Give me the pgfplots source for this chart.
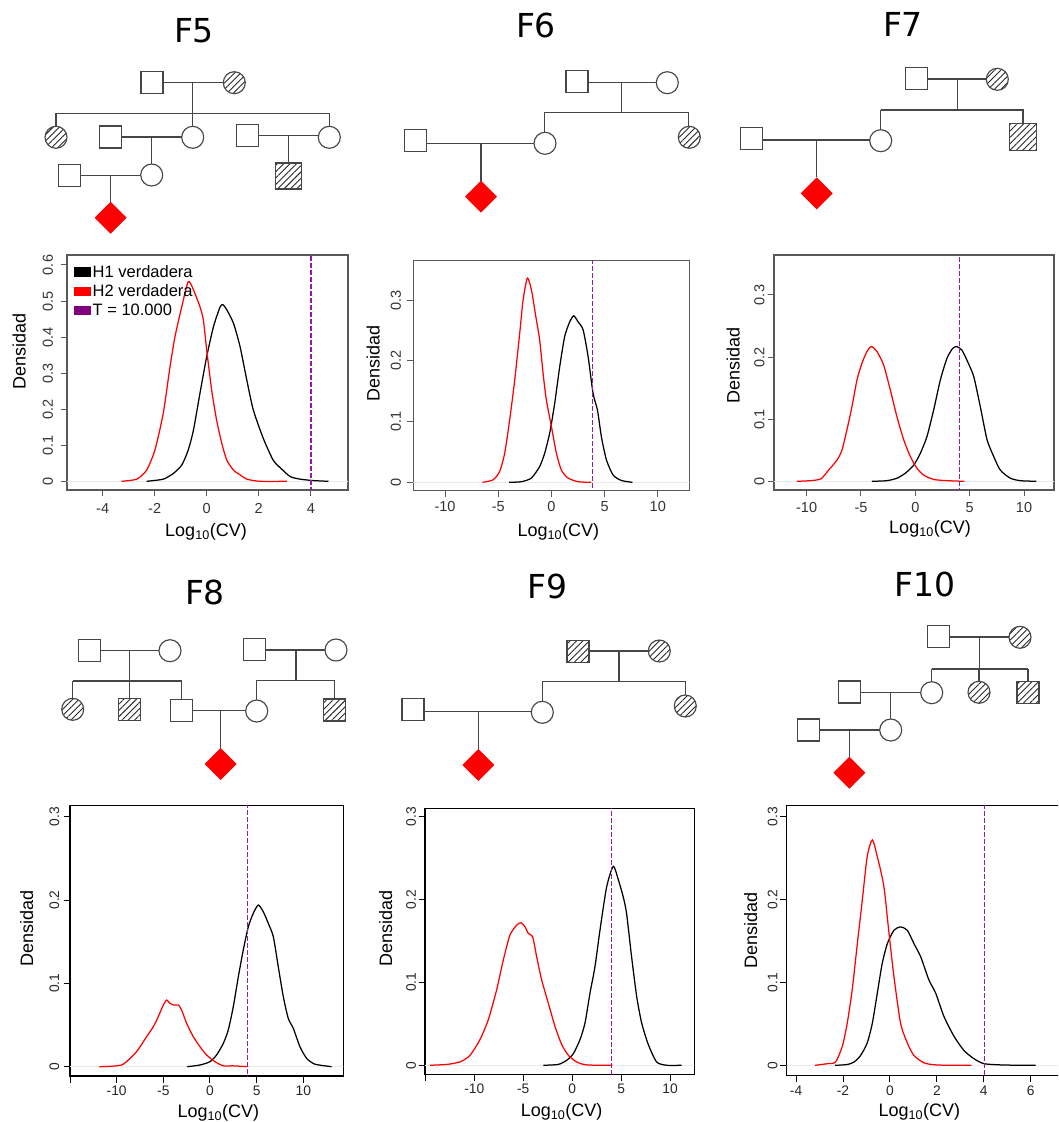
\documentclass[border=0pt]{standalone}
\usepackage{fontspec}
\setmainfont{Liberation Sans}
\newfontfamily\dejavu{DejaVu Sans}
\usepackage{pgfplots}
\pgfplotsset{compat=1.18}
\usetikzlibrary{patterns.meta}
\definecolor{tpurple}{RGB}{128,0,128}
\definecolor{tline}{RGB}{146,28,162}
\definecolor{pedline}{RGB}{70,70,70}
\newcommand\tickfont{\fontsize{14.5}{15}\selectfont}
\newcommand\tickfontb{\fontsize{13.8}{14}\selectfont}
\newcommand\labfont{\fontsize{18}{19}\selectfont}
\newcommand\titfont{\dejavu\fontsize{33}{36}\selectfont}
\tikzset{hatch/.style={pattern={Lines[angle=45,distance=4.5pt,line width=0.9pt]}, pattern color=black!85}}
\pgfplotsset{
  dens/.style={
    scale only axis, anchor=north west,
    axis line style={line width=1.1pt},
    tick align=outside, major tick length=6.5pt,
    xtick pos=left, ytick pos=left,
    tick style={line width=1pt},
    xticklabel style={anchor=center},
    every axis plot/.append style={line width=1.25pt},
  },
  yoff/.style={yticklabel style={xshift=-#1, rotate=90, anchor=center}},
  xoff/.style={xticklabel style={yshift=-#1}},
  tl/.style={tline, dash pattern=on 5pt off 2pt, line width=1.5pt},
}
% pedigree helpers (pixel coordinates, y downwards)
\newcommand\sq[2]{\draw[pedline,line width=1.15pt,fill=white] ({#1-11},{#2-11}) rectangle ({#1+11},{#2+11});}
\newcommand\hsq[3]{\draw[pedline,line width=1.15pt,hatch] ({#1-#3},{#2-#3}) rectangle ({#1+#3},{#2+#3});}
\newcommand\ci[2]{\draw[pedline,line width=1.15pt,fill=white] (#1,#2) circle[radius=11pt];}
\newcommand\hci[2]{\draw[pedline,line width=1.15pt,hatch] (#1,#2) circle[radius=11pt];}
\newcommand\dia[2]{\fill[red] (#1,{#2-16}) -- ({#1+16},#2) -- (#1,{#2+16}) -- ({#1-16},#2) -- cycle;}
\newcommand\pl[4]{\draw[pedline,line width=1.15pt] (#1,#2) -- (#3,#4);}

\begin{document}
\begin{tikzpicture}
\path[use as bounding box] (0pt,0pt) rectangle (1058pt,-1122pt);
\begin{scope}
\clip (0pt,0pt) rectangle (1058pt,-1122pt);

% ---------------- titles ----------------
\node[font=\titfont] at (194pt,-31pt) {F5};
\node[font=\titfont] at (536pt,-25pt) {F6};
\node[font=\titfont] at (903pt,-24pt) {F7};
\node[font=\titfont] at (205pt,-592pt) {F8};
\node[font=\titfont] at (547.5pt,-586pt) {F9};
\node[font=\titfont] at (925pt,-584pt) {F10};

% ---------------- pedigrees ----------------
\begin{scope}[x=1pt,y=-1pt]
% F5
\pl{163}{82.5}{223.3}{82.5}\pl{192.7}{82.5}{192.7}{113.3}
\pl{56}{113.3}{330}{113.3}\pl{56}{113.3}{56}{126.3}\pl{192.7}{113.3}{192.7}{126.3}\pl{329.3}{113.3}{329.3}{126.3}
\pl{121.8}{137}{181.7}{137}\pl{151.7}{137}{151.7}{164}
\pl{258.7}{135.3}{318.3}{135.3}\pl{288.7}{135.3}{288.7}{163}
\pl{80.5}{175.2}{140.7}{175.2}\pl{110.7}{175.2}{110.7}{201.7}
\sq{152}{82.5}\hci{234.3}{82.7}
\hci{56}{137.3}\ci{192.7}{137.3}\ci{329.3}{137.3}
\sq{110.8}{137}\ci{151.7}{175}
\sq{247.7}{135.3}\hsq{288.3}{176}{13}
\sq{69.5}{175.2}\dia{110.7}{217.7}
% F6
\pl{588}{82.5}{656.3}{82.5}\pl{621.7}{82.5}{621.7}{112.3}
\pl{544.3}{112.3}{688.3}{112.3}\pl{544.3}{112.3}{544.3}{132.3}\pl{688.3}{112.3}{688.3}{126.3}
\pl{426.8}{143.3}{534}{143.3}\pl{481}{143.3}{481}{180.7}
\sq{577}{81.8}\ci{667.3}{82.7}\ci{545}{143.3}\hci{689.3}{137.3}
\sq{415.8}{140.8}\dia{481}{196.7}
% F7
\pl{927.7}{79}{986.3}{79}\pl{957.3}{79}{957.3}{110}
\pl{880.7}{110}{1023.7}{110}\pl{880.7}{110}{880.7}{129.7}\pl{1023}{110}{1023}{123.5}
\pl{762.7}{140}{869.7}{140}\pl{816.7}{140}{816.7}{177.3}
\sq{916.7}{78.5}\hci{997.3}{79.3}\ci{880.7}{140.7}\hsq{1023}{137}{13.2}
\sq{751.7}{138.2}\dia{816.7}{193.3}
% F8
\pl{100.2}{650.5}{159}{650.5}\pl{129.3}{650.5}{129.3}{681}
\pl{72.7}{681}{181.7}{681}\pl{72.7}{681}{72.7}{698.3}\pl{129.5}{681}{129.5}{698.3}\pl{181.3}{681}{181.3}{699.2}
\pl{265.7}{650}{325}{650}\pl{296}{650}{296}{680.3}
\pl{256.7}{680.3}{334.3}{680.3}\pl{256.7}{680.3}{256.7}{700}\pl{334.3}{680.3}{334.3}{699}
\pl{192.3}{710.7}{245.7}{710.7}\pl{220.7}{710.7}{220.7}{748}
\sq{89.2}{650.2}\ci{170}{650.7}
\hci{72.7}{709.3}\hsq{129.5}{709.3}{11}\sq{181.3}{710.2}
\sq{254.7}{649.7}\ci{336}{650}
\ci{256.7}{711}\hsq{334.3}{710}{11}
\dia{220.7}{764}
% F9
\pl{589}{651}{648.3}{651}\pl{619}{651}{619}{681.3}
\pl{542.3}{681.3}{685.3}{681.3}\pl{542.3}{681.3}{542.3}{701.3}\pl{685.3}{681.3}{685.3}{695}
\pl{424}{711.7}{531.3}{711.7}\pl{478.3}{711.7}{478.3}{749}
\hsq{578}{651.2}{11}\hci{659.3}{651}\ci{542.3}{712.3}\hci{685.3}{706}
\sq{413}{709.2}\dia{478.3}{765}
% F10
\pl{949.3}{637}{1009}{637}\pl{979.3}{637}{979.3}{669}
\pl{931.7}{669}{1027.7}{669}\pl{931.7}{669}{931.7}{681.7}\pl{979}{669}{979}{681.3}\pl{1028}{669}{1028}{681.7}
\pl{860.7}{692.3}{920.7}{692.3}\pl{890.7}{692.3}{890.7}{719}
\pl{819.3}{730}{879.7}{730}\pl{849.3}{730}{849.3}{756.7}
\sq{938.3}{636.7}\hci{1020}{637.3}
\ci{931.7}{692.7}\hci{979}{692.3}\hsq{1028}{692.7}{11}
\sq{849.7}{692}\ci{890.7}{730}
\sq{808.3}{730}\dia{849.3}{772.7}
\end{scope}

% ---------------- axis labels ----------------
\node[font=\labfont,rotate=90] at (19.3pt,-351.7pt) {Densidad};
\node[font=\labfont,rotate=90] at (373.3pt,-363.3pt) {Densidad};
\node[font=\labfont,rotate=90] at (733.3pt,-365pt) {Densidad};
\node[font=\labfont,rotate=90] at (26.7pt,-928.3pt) {Densidad};
\node[font=\labfont,rotate=90] at (385.7pt,-928.3pt) {Densidad};
\node[font=\labfont,rotate=90] at (750.7pt,-930.7pt) {Densidad};
\node[font=\labfont] at (206pt,-531.7pt) {Log\textsubscript{10}(CV)};
\node[font=\labfont] at (558.3pt,-531.7pt) {Log\textsubscript{10}(CV)};
\node[font=\labfont] at (930pt,-529.3pt) {Log\textsubscript{10}(CV)};
\node[font=\labfont] at (218.3pt,-1113pt) {Log\textsubscript{10}(CV)};
\node[font=\labfont] at (561.7pt,-1111.7pt) {Log\textsubscript{10}(CV)};
\node[font=\labfont] at (919.3pt,-1111.7pt) {Log\textsubscript{10}(CV)};

% ---------------- F5 ----------------
\begin{axis}[dens, at={(67pt,-255pt)}, width=281pt, height=235pt,
  xmin=-5.37, xmax=5.43, ymin=-0.0241, ymax=0.6277,
  axis line style={black!65}, tick style={black!65},
  ticklabel style={font=\tickfont, text=black!80},
  xtick={-4,-2,0,2,4}, xticklabels={-4,-2,0,2,4},
  ytick={0,0.1,0.2,0.3,0.4,0.5,0.6}, yticklabels={0,0.1,0.2,0.3,0.4,0.5,0.6},
  xoff=11.8pt, yoff=12.5pt,
  legend style={draw=none, fill=none, at={(0.025,0.962)}, anchor=north west,
    font=\fontsize{16.5}{17}\selectfont, row sep=3.5pt, inner sep=0pt,
    nodes={inner sep=1.2pt}},
  legend cell align=left]
\addlegendimage{legend image code/.code={\fill[black] (0pt,-4pt) rectangle (16pt,4pt);}}
\addlegendentry{H1 verdadera}
\addlegendimage{legend image code/.code={\fill[red] (0pt,-4pt) rectangle (16pt,4pt);}}
\addlegendentry{H2 verdadera}
\addlegendimage{legend image code/.code={\fill[tpurple] (0pt,-4pt) rectangle (16pt,4pt);}}
\addlegendentry{T = 10.000}
\addplot[black!8, line width=0.8pt, forget plot] coordinates {(-10,0) (10,0)};
\addplot[black, smooth, tension=0.4, forget plot] coordinates {
(-2.31,0) (-1.67,0.006) (-1.28,0.022) (-0.96,0.045) (-0.71,0.087) (-0.51,0.142)
(-0.26,0.244) (0,0.346) (0.26,0.429) (0.51,0.483) (0.62,0.490) (0.77,0.476)
(1.03,0.438) (1.28,0.374) (1.54,0.281) (1.79,0.198) (2.18,0.118) (2.56,0.058)
(2.88,0.034) (3.21,0.013) (3.59,0.006) (4.10,0.002) (4.68,0)};
\addplot[red, smooth, tension=0.4, forget plot] coordinates {
(-3.27,0) (-2.69,0.006) (-2.31,0.031) (-1.99,0.087) (-1.67,0.189) (-1.41,0.318)
(-1.22,0.401) (-0.96,0.484) (-0.71,0.554) (-0.51,0.531) (-0.26,0.484) (-0.13,0.448)
(0,0.364) (0.19,0.253) (0.38,0.170) (0.58,0.105) (0.77,0.059) (1.03,0.031)
(1.28,0.018) (1.54,0.006) (2.05,0) (3.08,0)};
\addplot[tl, forget plot] coordinates {(4,-1) (4,1)};
\end{axis}

% ---------------- F6 ----------------
\begin{axis}[dens, at={(413.3pt,-260.7pt)}, width=276.4pt, height=230pt,
  xmin=-12.98, xmax=13.0, ymin=-0.0138, ymax=0.3647,
  axis line style={black!65}, tick style={black!65},
  ticklabel style={font=\tickfont, text=black!80},
  xtick={-10,-5,0,5,10}, xticklabels={-10,-5,0,5,10},
  ytick={0,0.1,0.2,0.3}, yticklabels={0,0.1,0.2,0.3},
  xoff=9.5pt, yoff=11pt]
\addplot[black!8, line width=0.8pt] coordinates {(-20,0) (20,0)};
\addplot[black, smooth, tension=0.4] coordinates {
(-3.98,0) (-2.82,0.001) (-1.88,0.007) (-1.10,0.026) (-0.63,0.048) (-0.16,0.081)
(0.31,0.130) (0.78,0.190) (1.25,0.240) (1.72,0.264) (2.10,0.274) (2.51,0.264)
(2.98,0.251) (3.45,0.207) (3.92,0.146) (4.33,0.119) (4.70,0.075) (5.17,0.037)
(5.80,0.012) (6.58,0.003) (7.62,0)};
\addplot[red, smooth, tension=0.4] coordinates {
(-6.49,0) (-5.49,0.004) (-4.86,0.018) (-4.39,0.048) (-3.92,0.103) (-3.45,0.168)
(-2.98,0.245) (-2.66,0.300) (-2.26,0.336) (-1.88,0.317) (-1.41,0.267) (-1.10,0.234)
(-0.78,0.179) (-0.47,0.135) (0,0.092) (0.47,0.048) (0.94,0.020) (1.57,0.007)
(2.51,0.001) (3.70,0)};
\addplot[tl] coordinates {(3.86,-1) (3.86,1)};
\end{axis}

% ---------------- F7 ----------------
\begin{axis}[dens, at={(774pt,-255pt)}, width=280pt, height=235pt,
  xmin=-13.0, xmax=12.76, ymin=-0.014, ymax=0.3644,
  axis line style={black!65}, tick style={black!65},
  ticklabel style={font=\tickfont, text=black!80},
  xtick={-10,-5,0,5,10}, xticklabels={-10,-5,0,5,10},
  ytick={0,0.1,0.2,0.3}, yticklabels={0,0.1,0.2,0.3},
  xoff=10.8pt, yoff=8.2pt]
\addplot[black!8, line width=0.8pt] coordinates {(-20,0) (20,0)};
\addplot[black, smooth, tension=0.4] coordinates {
(-3.99,0) (-2.61,0.001) (-1.69,0.005) (-0.92,0.013) (-0.15,0.026) (0.46,0.045)
(1.07,0.072) (1.69,0.115) (2.30,0.163) (2.91,0.198) (3.44,0.214) (3.83,0.217)
(4.29,0.211) (4.75,0.195) (5.37,0.169) (5.98,0.120) (6.60,0.067) (7.21,0.040)
(7.82,0.018) (8.74,0.005) (9.66,0.001) (11.13,0)};
\addplot[red, smooth, tension=0.4] coordinates {
(-10.89,0) (-9.66,0.001) (-8.68,0.004) (-7.98,0.018) (-7.21,0.034) (-6.75,0.050)
(-6.29,0.083) (-5.83,0.120) (-5.37,0.163) (-4.91,0.190) (-4.45,0.209) (-4.05,0.217)
(-3.53,0.209) (-2.91,0.187) (-2.30,0.147) (-1.69,0.104) (-1.07,0.067) (-0.46,0.040)
(0.15,0.021) (0.77,0.010) (1.69,0.003) (2.91,0.001) (4.51,0)};
\addplot[tl] coordinates {(4.05,-1) (4.05,1)};
\end{axis}

% ---------------- F8 ----------------
\begin{axis}[dens, at={(70pt,-805.7pt)}, width=273.3pt, height=270.3pt,
  xmin=-15.0, xmax=14.29, ymin=-0.0112, ymax=0.3132,
  axis line style={black}, tick style={black},
  ticklabel style={font=\tickfontb, text=black!85},
  xtick={-15,-10,-5,0,5,10}, xticklabels={,-10,-5,0,5,10},
  ytick={0,0.1,0.2,0.3}, yticklabels={0,0.1,0.2,0.3},
  xoff=8.2pt, yoff=9.2pt]
\addplot[black!8, line width=0.8pt] coordinates {(-20,0) (20,0)};
\addplot[black, smooth, tension=0.4] coordinates {
(-2.43,0) (-1.07,0.002) (0,0.006) (0.71,0.014) (1.43,0.028) (1.96,0.044)
(2.5,0.072) (3.04,0.108) (3.57,0.140) (4.11,0.168) (4.64,0.184) (5.18,0.194)
(5.71,0.186) (6.25,0.172) (6.79,0.156) (7.32,0.120) (7.86,0.084) (8.39,0.058)
(8.93,0.046) (9.64,0.024) (10.36,0.010) (11.25,0.003) (13.04,0)};
\addplot[red, smooth, tension=0.4] coordinates {
(-11.86,0) (-10.71,0.0004) (-9.46,0.002) (-8.75,0.008) (-7.86,0.018) (-6.79,0.036)
(-6.07,0.048) (-5.54,0.060) (-5.00,0.074) (-4.64,0.080) (-4.29,0.076) (-3.93,0.074)
(-3.39,0.074) (-3.04,0.068) (-2.50,0.052) (-1.79,0.036) (-1.07,0.024) (-0.36,0.014)
(0.54,0.006) (1.43,0.001) (2.5,0.001) (4.0,0)};
\addplot[tl] coordinates {(4.04,-1) (4.04,1)};
\end{axis}

% ---------------- F9 ----------------
\begin{axis}[dens, at={(425pt,-808.3pt)}, width=269.3pt, height=266pt,
  xmin=-15.04, xmax=12.48, ymin=-0.0109, ymax=0.310,
  axis line style={black}, tick style={black},
  ticklabel style={font=\tickfontb, text=black!85},
  xtick={-15,-10,-5,0,5,10}, xticklabels={,-10,-5,0,5,10},
  ytick={0,0.1,0.2,0.3}, yticklabels={0,0.1,0.2,0.3},
  xoff=8.2pt, yoff=7.5pt]
\addplot[black!8, line width=0.8pt] coordinates {(-20,0) (20,0)};
\addplot[black, smooth, tension=0.4] coordinates {
(-2.95,0) (-1.42,0.001) (-0.56,0.006) (0.12,0.014) (0.80,0.031) (1.31,0.051)
(1.82,0.087) (2.33,0.119) (2.84,0.163) (3.52,0.215) (4.20,0.240) (4.71,0.224)
(5.22,0.203) (5.56,0.183) (6.07,0.131) (6.59,0.083) (7.10,0.051) (7.78,0.025)
(8.63,0.004) (9.66,0) (11.19,0)};
\addplot[red, smooth, tension=0.4] coordinates {
(-14.53,0) (-12.83,0.001) (-11.47,0.004) (-10.44,0.012) (-9.42,0.031) (-8.57,0.055)
(-7.72,0.091) (-7.04,0.127) (-6.36,0.157) (-5.68,0.169) (-5.23,0.172) (-4.82,0.167)
(-4.48,0.159) (-4.04,0.155) (-3.63,0.131) (-3.12,0.103) (-2.44,0.075) (-1.76,0.047)
(-1.07,0.025) (-0.39,0.012) (0.46,0.004) (1.48,0.0004) (4.10,0)};
\addplot[tl] coordinates {(4.04,-1) (4.04,1)};
\end{axis}

% ---------------- F10 ----------------
\begin{axis}[dens, at={(786.7pt,-805.7pt)}, width=281.6pt, height=270pt,
  xmin=-4.40, xmax=7.6, ymin=-0.0125, ymax=0.3133,
  axis line style={black}, tick style={black},
  ticklabel style={font=\tickfontb, text=black!85},
  xtick={-4,-2,0,2,4,6}, xticklabels={-4,-2,0,2,4,6},
  ytick={0,0.1,0.2,0.3}, yticklabels={0,0.1,0.2,0.3},
  xoff=8.5pt, yoff=7.5pt]
\addplot[black!8, line width=0.8pt] coordinates {(-20,0) (20,0)};
\addplot[black, smooth, tension=0.4] coordinates {
(-2.34,0) (-1.82,0.001) (-1.53,0.004) (-1.25,0.012) (-0.97,0.027) (-0.75,0.051)
(-0.54,0.087) (-0.33,0.123) (-0.11,0.147) (0.17,0.163) (0.45,0.167) (0.74,0.163)
(1.02,0.147) (1.31,0.131) (1.66,0.103) (1.95,0.087) (2.30,0.059) (2.73,0.035)
(3.15,0.018) (3.58,0.008) (4.01,0.002) (4.86,0.0004) (6.21,0)};
\addplot[red, smooth, tension=0.4] coordinates {
(-3.20,0) (-2.67,0.002) (-2.32,0.004) (-2.03,0.023) (-1.82,0.051) (-1.61,0.091)
(-1.39,0.147) (-1.18,0.199) (-0.97,0.252) (-0.75,0.272) (-0.54,0.252) (-0.26,0.216)
(-0.04,0.159) (0.17,0.107) (0.45,0.051) (0.74,0.027) (1.02,0.012) (1.45,0.003)
(2.02,0.0004) (3.47,0)};
\addplot[tl] coordinates {(4.03,-1) (4.03,1)};
\end{axis}
\end{scope}
\end{tikzpicture}
\end{document}
